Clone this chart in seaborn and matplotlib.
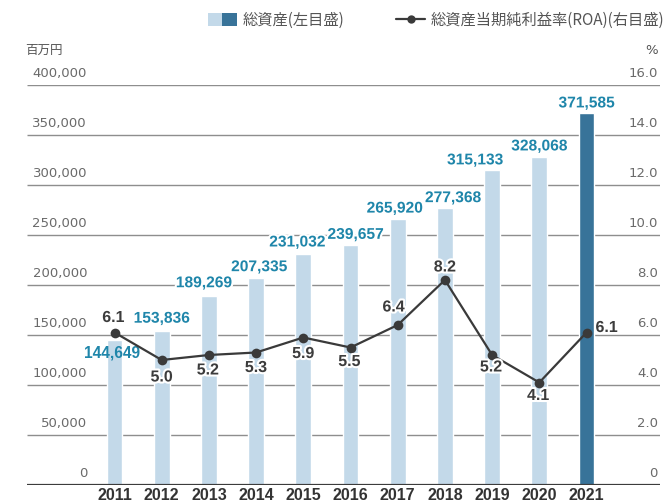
import numpy as np
import pandas as pd
import matplotlib
matplotlib.use("Agg")
import matplotlib.pyplot as plt
import matplotlib.patheffects as pe
from matplotlib.patches import Patch
from matplotlib.lines import Line2D
from matplotlib.legend_handler import HandlerTuple
from matplotlib.transforms import ScaledTranslation
import seaborn as sns

# ---- data ----
years = ["2011", "2012", "2013", "2014", "2015", "2016",
         "2017", "2018", "2019", "2020", "2021"]
total_assets = [144649, 153836, 189269, 207335, 231032, 239657,
                265920, 277368, 315133, 328068, 371585]
roa = [6.1, 5.0, 5.2, 5.3, 5.9, 5.5, 6.4, 8.2, 5.2, 4.1, 6.1]
left_ticks = [0, 50000, 100000, 150000, 200000, 250000, 300000, 350000, 400000]
right_ticks = [0, 2, 4, 6, 8, 10, 12, 14, 16]

# ---- style ----
LIGHT = "#c3d9e9"
DARK = "#387399"
VALUE_BLUE = "#1f86aa"
LINE = "#3a3a3a"
GRID = "#8e8e8e"
TICK_GRAY = "#6a6a6a"

sns.set_theme(style="white")
plt.rcParams["font.family"] = ["Noto Sans CJK JP", "DejaVu Sans"]
BOLD_FONT = ["Liberation Sans", "DejaVu Sans"]

PX = 0.72  # points per pixel at 100 dpi

fig = plt.figure(figsize=(6.65, 5.04), dpi=100)
ax = fig.add_axes([27 / 665, 19 / 504, 633 / 665, 400 / 504])
ax.patch.set_visible(False)

df = pd.DataFrame({"year": years, "assets": total_assets, "roa": roa})
palette = {y: (DARK if y == years[-1] else LIGHT) for y in years}
sns.barplot(data=df, x="year", y="assets", hue="year", palette=palette,
            legend=False, width=0.333, saturation=1, ax=ax)
for p in ax.patches:
    p.set_zorder(2)
    p.set_alpha(1)

ax.set_xlim(-1.854, 11.557)
ax.set_ylim(0, 400000)
ax.set_xlabel("")
ax.set_ylabel("")
for s in ax.spines.values():
    s.set_visible(False)

# horizontal rules behind the bars
ax.set_yticks(left_ticks)
ax.set_yticklabels(["0" if v == 0 else f"{v:,}" for v in left_ticks])
ax.hlines(left_ticks[1:], -1.854, 11.557, colors=GRID, linewidth=1.0, zorder=0.5)
ax.axhline(0, color="#3c3c3c", linewidth=1.6, zorder=3)
ax.tick_params(axis="y", length=0, pad=-60 * PX, labelsize=9.5,
               labelcolor=TICK_GRAY)
for lab in ax.get_yticklabels():
    lab.set_fontfamily("DejaVu Sans")
    lab.set_horizontalalignment("right")
    lab.set_verticalalignment("bottom")
    lab.set_transform(lab.get_transform() + ScaledTranslation(0, 5 / 100, fig.dpi_scale_trans))

# year labels
ax.tick_params(axis="x", length=0, pad=3.5 * PX, labelsize=11.5, labelcolor="#333333")
for lab in ax.get_xticklabels():
    lab.set_fontfamily(BOLD_FONT)
    lab.set_fontweight("bold")

# bar value labels (offsets in pixels)
bar_offsets = [(-2, -13), (0, 13), (-5, 13), (3, 11), (-6, 12), (5, 11),
               (-3, 11), (8, 10), (-17, 10), (0, 11), (0, 10.5)]
for i, (v, (dx, dy)) in enumerate(zip(total_assets, bar_offsets)):
    ax.annotate(f"{v:,}", (i, v), xytext=(dx * PX, dy * PX),
                textcoords="offset points", ha="center", va="center",
                fontsize=11.2, fontweight="bold", color=VALUE_BLUE,
                fontfamily=BOLD_FONT, zorder=5,
                path_effects=[pe.withStroke(linewidth=3, foreground="white")] if i > 0 else None)

# ROA line on the right axis
ax2 = ax.twinx()
ax2.patch.set_visible(False)
sns.lineplot(x=np.arange(len(years)), y=roa, ax=ax2, color=LINE, linewidth=1.6,
             marker="o", markersize=7, markeredgewidth=0, markerfacecolor=LINE,
             zorder=4)
ax2.set_ylim(0, 16)
ax2.set_xlim(ax.get_xlim())
for s in ax2.spines.values():
    s.set_visible(False)
ax2.set_yticks(right_ticks)
ax2.set_yticklabels(["0" if v == 0 else f"{v:.1f}" for v in right_ticks])
ax2.tick_params(axis="y", length=0, pad=-2 * PX, labelsize=9.5, labelcolor=TICK_GRAY)
for lab in ax2.get_yticklabels():
    lab.set_fontfamily("DejaVu Sans")
    lab.set_horizontalalignment("right")
    lab.set_verticalalignment("bottom")
    lab.set_transform(lab.get_transform() + ScaledTranslation(0, 5 / 100, fig.dpi_scale_trans))
ax2.set_ylabel("")

roa_offsets = [(-1, 15), (0, -17), (-1, -15), (0, -15), (0, -16), (-1, -14),
               (-4, 18), (0, 13), (-1, -12), (-1, -13), (9, 5)]
for i, (v, (dx, dy)) in enumerate(zip(roa, roa_offsets)):
    ax2.annotate(f"{v:.1f}", (i, v), xytext=(dx * PX, dy * PX),
                 textcoords="offset points",
                 ha="left" if i == len(roa) - 1 else "center", va="center",
                 fontsize=11.5, fontweight="bold", color="#3c3c3c",
                 fontfamily=BOLD_FONT, zorder=6,
                 path_effects=[pe.withStroke(linewidth=3, foreground="white")])

# no automatic grids on either axes
for a in (ax, ax2):
    a.xaxis.grid(False)
    a.yaxis.grid(False)

# unit labels
fig.text(25 / 665, 1 - 50 / 504, "百万円", fontsize=9, color="#555555",
         ha="left", va="center")
fig.text(658 / 665, 1 - 50 / 504, "%", fontsize=9.5, color="#555555",
         ha="right", va="center", fontfamily="DejaVu Sans")

# legend
handles = [(Patch(facecolor=LIGHT, edgecolor="none"), Patch(facecolor=DARK, edgecolor="none")),
           Line2D([0], [0], color=LINE, linewidth=1.6, marker="o", markersize=6,
                  markeredgewidth=0)]
labels = ["総資産(左目盛)", "総資産当期純利益率(ROA)(右目盛)"]
leg = fig.legend(handles, labels, loc="center right",
                 bbox_to_anchor=(664 / 665, 1 - 20 / 504), ncol=2, frameon=False,
                 fontsize=11, handlelength=1.9, handleheight=0.95,
                 handletextpad=0.35, columnspacing=3.4, borderpad=0,
                 borderaxespad=0,
                 handler_map={tuple: HandlerTuple(ndivide=None, pad=0)})
for t in leg.get_texts():
    t.set_color("#555555")

fig.savefig("out.png", dpi=100)
